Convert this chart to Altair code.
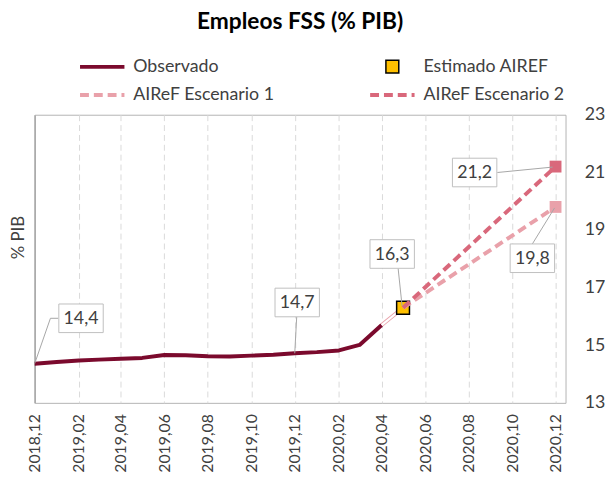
import altair as alt
import pandas as pd

# ---------------- data ----------------
series_names = ["Observado", "Estimado AIREF", "AIReF Escenario 1", "AIReF Escenario 2"]
series_stroke = ["#7b0a2d", "#000000", "#e9a1aa", "#d9687b"]   # line / outline colours
series_fill = ["#7b0a2d", "#ffc000", "#e9a1aa", "#d9687b"]     # marker fill colours

obs_months = ["2018-12-01", "2019-01-01", "2019-02-01", "2019-03-01", "2019-04-01",
              "2019-05-01", "2019-06-01", "2019-07-01", "2019-08-01", "2019-09-01",
              "2019-10-01", "2019-11-01", "2019-12-01", "2020-01-01", "2020-02-01",
              "2020-03-01", "2020-04-01"]
obs_values = [14.36, 14.42, 14.47, 14.50, 14.53, 14.56, 14.66, 14.65, 14.62, 14.61,
              14.64, 14.67, 14.72, 14.76, 14.82, 15.01, 15.70]

est_months = ["2020-05-01"]
est_values = [16.3]

esc_months = ["2020-05-01", "2020-12-01"]
esc1_values = [16.3, 19.8]
esc2_values = [16.3, 21.2]

x_ticks = ["2018-12-01", "2019-02-01", "2019-04-01", "2019-06-01", "2019-08-01",
           "2019-10-01", "2019-12-01", "2020-02-01", "2020-04-01", "2020-06-01",
           "2020-08-01", "2020-10-01", "2020-12-01"]
x_domain = ["2018-12-01", "2020-12-15"]
y_ticks = [13, 15, 17, 19, 21, 23]
y_domain = [13, 23]

title_text = "Empleos FSS (% PIB)"
y_title = "% PIB"

# ---------------- tables ----------------
def to_dt(s):
    y, m, d = (int(p) for p in s.split("-"))
    return alt.DateTime(year=y, month=m, date=d, utc=True)

obs_df = pd.DataFrame({"date": obs_months, "value": obs_values, "serie": series_names[0]})
est_df = pd.DataFrame({"date": est_months, "value": est_values, "serie": series_names[1]})
esc_df = pd.concat([
    pd.DataFrame({"date": esc_months, "value": esc1_values, "serie": series_names[2]}),
    pd.DataFrame({"date": esc_months, "value": esc2_values, "serie": series_names[3]}),
], ignore_index=True)
esc_end_df = esc_df.groupby("serie", as_index=False).last()
conn_df = pd.DataFrame({"date": [obs_months[-1], est_months[0]],
                        "value": [obs_values[-1], est_values[0]]})

def fmt(v):
    return f"{v:.1f}".replace(".", ",")

label_points = {
    "obs_first": (obs_months[0], obs_values[0]),
    "obs_dec": (obs_months[12], obs_values[12]),
    "est": (est_months[0], est_values[0]),
    "esc2_end": (esc_months[-1], esc2_values[-1]),
    "esc1_end": (esc_months[-1], esc1_values[-1]),
}

# label box offsets and leader-line polylines (pixels, relative to point)
label_layout = {
    "obs_first": {"box": (47, -46), "leader": [(0, 0), (16, -46), (24, -46)]},
    "obs_dec": {"box": (2.5, -51.5), "leader": [(0, 0), (2, -37)]},
    "est": {"box": (-11, -54.5), "leader": [(-1, -2), (-5, -40)]},
    "esc2_end": {"box": (-82, 6), "leader": [(-3, 0.5), (-59, 6)]},
    "esc1_end": {"box": (-23.5, 52), "leader": [(-1, 1), (-23.5, 37.5)]},
}

FONT = "Lato"
TXT = "#404040"

# ---------------- encodings ----------------
x_enc = alt.X(
    "date:T",
    scale=alt.Scale(type="utc", domain=[to_dt(s) for s in x_domain]),
    axis=alt.Axis(values=[to_dt(s) for s in x_ticks], format="%Y,%m", labelAngle=270,
                  labelFontSize=16, labelFont=FONT, labelColor=TXT, labelPadding=11,
                  labelOverlap=False, labelBound=False, grid=True, gridDash=[6, 4],
                  gridColor="#d9d9d9", gridWidth=1, domain=False, ticks=False, title=None),
)
x2_enc = alt.X2("date:T")
y_scale = alt.Scale(domain=y_domain, nice=False, zero=False)
y_none = alt.Y("value:Q", scale=y_scale, axis=None)
y_left = alt.Y("value:Q", scale=y_scale, axis=alt.Axis(
    orient="left", labels=False, ticks=False, grid=False, domain=True,
    domainColor="#a6a6a6", domainWidth=1.5, title=y_title, titleFont=FONT,
    titleFontSize=17, titleFontWeight="normal", titleColor=TXT, titleAngle=270,
    titleX=-16.5, titleY=124, titleAlign="center", titleBaseline="middle"))
y_right = alt.Y("value:Q", scale=y_scale, axis=alt.Axis(
    orient="right", values=y_ticks, labels=True, ticks=False, grid=False, domain=False,
    labelFont=FONT, labelFontSize=18, labelColor=TXT, labelPadding=19, title=None))
y2_enc = alt.Y2("value:Q")

is_est = "datum.value === 'Estimado AIREF'"
small_square = "M-0.29,-0.29L0.29,-0.29L0.29,0.29L-0.29,0.29Z"
legend = alt.Legend(
    title=None, orient="none", legendX=59.5, legendY=-58, columns=2, direction="horizontal",
    padding=0, symbolSize=2025, labelFont=FONT,
    labelFontSize=18, labelColor=TXT, labelOffset=22.5, columnPadding=88, rowPadding=10,
    symbolType=alt.ExprRef(expr=f"{is_est} ? '{small_square}' : 'stroke'"),
    symbolDash=alt.ExprRef(expr="indexof(datum.value, 'Escenario') >= 0 ? [9, 5] : [1, 0]"),
    symbolFillColor=alt.ExprRef(expr=f"{is_est} ? '{series_fill[1]}' : 'transparent'"),
    symbolStrokeWidth=alt.ExprRef(expr=f"{is_est} ? 1.5 : 4"),
    symbolOpacity=1,
)
stroke_enc = alt.Stroke("serie:N", scale=alt.Scale(domain=series_names, range=series_stroke),
                        legend=legend)
fill_enc = alt.Fill("serie:N", scale=alt.Scale(domain=series_names, range=series_fill),
                    legend=None)

# ---------------- layers ----------------
layers = []
layers.append(alt.Chart(obs_df).mark_line(strokeWidth=4, strokeJoin="round").encode(
    x=x_enc, y=y_left, stroke=stroke_enc))
layers.append(alt.Chart(conn_df).mark_line(strokeWidth=4, color="#e9a1aa").encode(
    x=x_enc, y=y_none))
layers.append(alt.Chart(conn_df).mark_line(strokeWidth=2.2, color="white").encode(
    x=x_enc, y=y_none))
layers.append(alt.Chart(est_df).mark_point(shape="square", size=169, filled=True, opacity=1,
                                           stroke="#000000", strokeWidth=1.5).encode(
    x=x_enc, y=y_none, fill=fill_enc))
layers.append(alt.Chart(esc_df).mark_line(strokeWidth=4, strokeDash=[9, 5]).encode(
    x=x_enc, y=y_right, stroke=stroke_enc))
layers.append(alt.Chart(esc_end_df).mark_point(shape="square", size=144, filled=True,
                                               opacity=1, strokeWidth=0).encode(
    x=x_enc, y=y_none, fill=fill_enc))

box_path = "M-1,-0.644L1,-0.644L1,0.644L-1,0.644Z"
for key, (d, v) in label_points.items():
    lay = label_layout[key]
    df = pd.DataFrame({"date": [d], "value": [v], "label": [fmt(v)]})
    pts = lay["leader"]
    for (ax, ay), (bx, by) in zip(pts[:-1], pts[1:]):
        layers.append(alt.Chart(df).mark_rule(
            color="#a6a6a6", strokeWidth=1, xOffset=ax, yOffset=ay,
            x2Offset=bx, y2Offset=by).encode(x=x_enc, y=y_none, x2=x2_enc, y2=y2_enc))
    bx, by = lay["box"]
    layers.append(alt.Chart(df).mark_point(
        shape=box_path, size=2025, filled=True, fill="white", stroke="#bfbfbf",
        strokeWidth=1, opacity=1, xOffset=bx, yOffset=by).encode(x=x_enc, y=y_none))
    layers.append(alt.Chart(df).mark_text(
        font=FONT, fontSize=18, color=TXT, align="center", baseline="middle",
        dx=bx, dy=by + 1).encode(x=x_enc, y=y_none, text="label:N"))

chart = alt.layer(*layers).resolve_axis(y="independent").properties(
    width=538, height=292,
    padding={"left": 27, "top": 105, "right": 40, "bottom": 74},
    autosize=alt.AutoSizeParams(type="none"),
    title=alt.TitleParams(title_text, font=FONT, fontSize=23, fontWeight="bold",
                          color="#000000", anchor="middle", offset=24),
).configure_view(stroke="#b3b3b3", strokeWidth=1)

chart.save("out.html", embed_options={"renderer": "svg", "actions": False})
